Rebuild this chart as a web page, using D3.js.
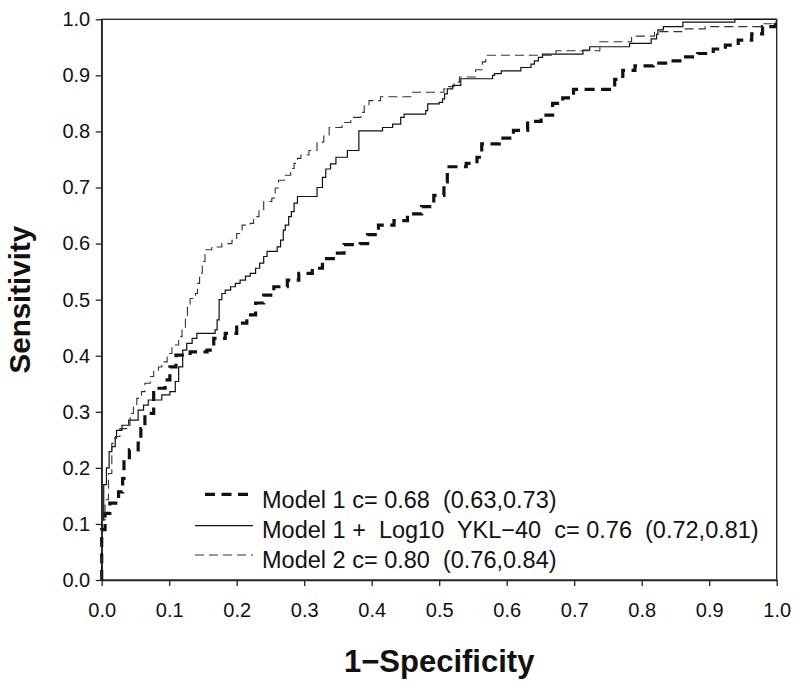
<!DOCTYPE html>
<html>
<head>
<meta charset="utf-8">
<script src="https://cdn.jsdelivr.net/npm/d3@7"></script>
<style>
  html, body { margin: 0; padding: 0; background: #fff; }
  svg { display: block; }
  text { font-family: "Liberation Sans", Arial, Helvetica, sans-serif; fill: #111; }
</style>
</head>
<body>
<svg id="chart" width="800" height="695"></svg>
<script>
// ---- Data (1 - specificity, sensitivity) ----
const xTicks = [0, 0.1, 0.2, 0.3, 0.4, 0.5, 0.6, 0.7, 0.8, 0.9, 1.0];
const yTicks = [0, 0.1, 0.2, 0.3, 0.4, 0.5, 0.6, 0.7, 0.8, 0.9, 1.0];

const model1 = [
  [0,0],[0,0.09],[0.005,0.119],[0.012,0.137],[0.025,0.157],[0.031,0.181],[0.033,0.214],
  [0.041,0.232],[0.054,0.244],[0.058,0.27],[0.064,0.297],[0.077,0.342],[0.094,0.357],
  [0.101,0.38],[0.110,0.401],[0.131,0.407],[0.156,0.41],[0.166,0.431],[0.183,0.44],
  [0.200,0.458],[0.215,0.473],[0.228,0.494],[0.240,0.508],[0.255,0.523],[0.275,0.535],
  [0.292,0.547],[0.312,0.556],[0.327,0.573],[0.346,0.583],[0.359,0.598],[0.383,0.60],
  [0.394,0.616],[0.410,0.633],[0.433,0.641],[0.453,0.653],[0.474,0.666],[0.492,0.686],
  [0.507,0.71],[0.512,0.737],[0.540,0.743],[0.556,0.754],[0.563,0.778],[0.589,0.788],
  [0.610,0.802],[0.631,0.818],[0.651,0.829],[0.668,0.85],[0.683,0.86],[0.699,0.875],
  [0.760,0.893],[0.772,0.909],[0.790,0.917],[0.817,0.922],[0.839,0.926],[0.859,0.933],
  [0.883,0.939],[0.906,0.947],[0.924,0.954],[0.943,0.963],[0.963,0.974],[0.979,0.987],
  [0.998,0.995],[1.0,1.0]
];

const model1Ykl = [
  [0,0],[0,0.107],[0.003,0.17],[0.007,0.2],[0.011,0.229],[0.015,0.238],[0.020,0.253],
  [0.022,0.267],[0.030,0.276],[0.040,0.285],[0.054,0.303],[0.062,0.312],[0.069,0.321],
  [0.089,0.33],[0.101,0.336],[0.109,0.354],[0.114,0.38],[0.120,0.41],[0.126,0.422],
  [0.134,0.431],[0.141,0.44],[0.168,0.446],[0.171,0.464],[0.174,0.5],[0.178,0.511],
  [0.183,0.517],[0.191,0.523],[0.198,0.529],[0.205,0.535],[0.213,0.542],[0.220,0.547],
  [0.228,0.556],[0.234,0.565],[0.240,0.577],[0.245,0.586],[0.260,0.594],[0.265,0.606],
  [0.269,0.624],[0.272,0.633],[0.277,0.648],[0.281,0.657],[0.285,0.672],[0.290,0.684],
  [0.319,0.70],[0.327,0.718],[0.332,0.733],[0.339,0.742],[0.347,0.754],[0.364,0.766],
  [0.381,0.801],[0.416,0.807],[0.431,0.813],[0.443,0.825],[0.448,0.831],[0.480,0.837],
  [0.483,0.849],[0.500,0.852],[0.505,0.858],[0.508,0.867],[0.512,0.876],[0.520,0.882],
  [0.532,0.894],[0.579,0.9],[0.582,0.903],[0.592,0.908],[0.621,0.914],[0.636,0.92],
  [0.641,0.926],[0.647,0.932],[0.653,0.938],[0.713,0.945],[0.723,0.951],[0.782,0.957],
  [0.814,0.965],[0.822,0.973],[0.824,0.981],[0.832,0.987],[0.861,0.995],[0.938,1.0],
  [1.0,1.0]
];

const model2 = [
  [0,0],[0,0.107],[0.005,0.143],[0.010,0.19],[0.015,0.244],[0.020,0.256],[0.027,0.27],
  [0.042,0.297],[0.047,0.312],[0.052,0.324],[0.059,0.336],[0.064,0.351],[0.072,0.363],
  [0.077,0.372],[0.084,0.38],[0.089,0.389],[0.097,0.404],[0.104,0.419],[0.114,0.434],
  [0.119,0.446],[0.124,0.467],[0.127,0.487],[0.131,0.502],[0.139,0.511],[0.142,0.529],
  [0.145,0.547],[0.149,0.568],[0.153,0.589],[0.163,0.594],[0.178,0.60],[0.193,0.606],
  [0.200,0.618],[0.208,0.633],[0.220,0.636],[0.225,0.648],[0.233,0.66],[0.240,0.675],
  [0.252,0.681],[0.257,0.699],[0.262,0.713],[0.272,0.722],[0.280,0.734],[0.285,0.743],
  [0.290,0.752],[0.295,0.758],[0.307,0.766],[0.319,0.781],[0.329,0.792],[0.337,0.807],
  [0.356,0.816],[0.369,0.825],[0.384,0.834],[0.389,0.846],[0.396,0.855],[0.413,0.862],
  [0.458,0.870],[0.507,0.876],[0.512,0.88],[0.522,0.888],[0.530,0.897],[0.554,0.910],
  [0.564,0.924],[0.569,0.936],[0.673,0.944],[0.738,0.96],[0.785,0.97],[0.819,0.978],
  [0.861,0.983],[0.894,0.987],[0.978,0.992],[0.996,0.996],[1.0,1.0]
];

const seriesNames = [
  "Model 1 c= 0.68  (0.63,0.73)",
  "Model 1 +  Log10  YKL\u221240  c= 0.76  (0.72,0.81)",
  "Model 2 c= 0.80  (0.76,0.84)"
];
const xTitle = "1\u2212Specificity";
const yTitle = "Sensitivity";

// ---- Layout ----
const svg = d3.select("#chart");
const mLeft = 101.7, mRight = 776.7, mTop = 19.3, mBottom = 580;
const x = d3.scaleLinear().domain([0, 1]).range([mLeft, mRight]);
const y = d3.scaleLinear().domain([0, 1]).range([mBottom, mTop]);

// frame (top and right)
svg.append("rect")
  .attr("x", mLeft).attr("y", mTop)
  .attr("width", mRight - mLeft).attr("height", mBottom - mTop)
  .attr("fill", "none").attr("stroke", "#222").attr("stroke-width", 1.3);

const xAxis = svg.append("g")
  .attr("transform", `translate(0,${mBottom})`)
  .call(d3.axisBottom(x).tickValues(xTicks).tickFormat(d3.format(".1f"))
        .tickSize(6).tickSizeOuter(0).tickPadding(17));
const yAxis = svg.append("g")
  .attr("transform", `translate(${mLeft},0)`)
  .call(d3.axisLeft(y).tickValues(yTicks).tickFormat(d3.format(".1f"))
        .tickSize(6).tickSizeOuter(0).tickPadding(5.5));

[xAxis, yAxis].forEach(g => {
  g.select(".domain").attr("stroke", "#222").attr("stroke-width", 1.3);
  g.selectAll(".tick line").attr("stroke", "#222").attr("stroke-width", 1.3);
  g.selectAll(".tick text")
    .attr("font-family", "'Liberation Sans', Arial, sans-serif")
    .attr("font-size", 20).attr("fill", "#111");
});

// axis titles
svg.append("text")
  .attr("x", (mLeft + mRight) / 2).attr("y", 672)
  .attr("text-anchor", "middle")
  .attr("font-size", 31).attr("font-weight", "bold")
  .text(xTitle);
svg.append("text")
  .attr("transform", `translate(30,${(mTop + mBottom) / 2}) rotate(-90)`)
  .attr("text-anchor", "middle")
  .attr("font-size", 29.5).attr("font-weight", "bold")
  .text(yTitle);

// curves
const line = d3.line().x(d => x(d[0])).y(d => y(d[1])).curve(d3.curveStepAfter);
const styles = [
  { w: 3.2, dash: "10,6.5", color: "#111" },
  { w: 1.2, dash: null, color: "#111" },
  { w: 1.1, dash: "9,5", color: "#333" }
];
const allSeries = [model1, model1Ykl, model2];

const plot = svg.append("g");
allSeries.forEach((data, i) => {
  plot.append("path")
    .datum(data)
    .attr("d", line)
    .attr("fill", "none")
    .attr("stroke", styles[i].color)
    .attr("stroke-width", styles[i].w)
    .attr("stroke-dasharray", styles[i].dash);
});

// legend
const legendLineY = [494.3, 525.7, 555];
const legendTextY = [508.3, 538.3, 568.3];
const legendX = [[205, 248], [195, 253], [195, 253]];
const legend = svg.append("g");
seriesNames.forEach((name, i) => {
  legend.append("line")
    .attr("x1", legendX[i][0]).attr("x2", legendX[i][1])
    .attr("y1", legendLineY[i]).attr("y2", legendLineY[i])
    .attr("stroke", styles[i].color)
    .attr("stroke-width", styles[i].w)
    .attr("stroke-dasharray", styles[i].dash);
  legend.append("text")
    .attr("x", 262).attr("y", legendTextY[i])
    .attr("font-size", 23.5)
    .style("white-space", "pre")
    .text(name);
});
</script>
</body>
</html>
